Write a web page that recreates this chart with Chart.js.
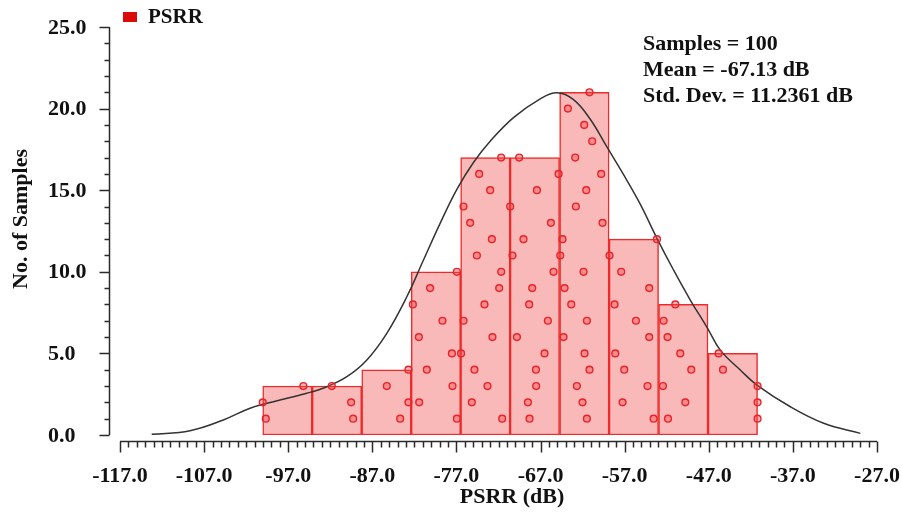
<!DOCTYPE html>
<html>
<head>
<meta charset="utf-8">
<title>PSRR histogram</title>
<script src="https://cdn.jsdelivr.net/npm/chart.js@4.4.1/dist/chart.umd.min.js"></script>
<style>
  html, body { margin: 0; padding: 0; background: #fff; }
  #wrap { width: 902px; height: 515px; position: relative; }
</style>
</head>
<body>
<div id="wrap"><canvas id="psrrChart"></canvas></div>
<script>
// histogram bins (dB) and counts
var binCenters = [-97.09, -91.21, -85.32, -79.44, -73.56, -67.68, -61.79, -55.91, -50.03, -44.14];
var binCounts = [3, 3, 4, 10, 17, 17, 21, 12, 8, 5];

// individual samples per bin, listed bottom to top
var binSamples = [
    [-99.67, -100.03, -95.20],
    [-89.28, -89.52, -91.82],
    [-83.69, -82.71, -85.28, -82.71],
    [-76.95, -81.43, -77.47, -80.52, -77.54, -81.47, -78.66, -82.18, -80.13, -76.95],
    [-71.56, -75.17, -73.31, -74.86, -76.45, -72.72, -76.16, -73.67, -71.92, -71.68, -74.57, -72.79, -75.37, -76.16, -72.99, -74.30, -71.68],
    [-68.31, -68.50, -67.52, -67.55, -66.53, -69.81, -66.13, -68.35, -67.99, -65.46, -70.34, -69.03, -65.77, -70.61, -67.43, -64.86, -69.54],
    [-61.49, -62.01, -62.68, -61.18, -61.77, -64.27, -61.49, -63.35, -64.15, -61.89, -64.66, -64.39, -59.63, -62.80, -61.57, -59.79, -62.88, -60.86, -61.81, -63.75, -61.18],
    [-53.56, -57.25, -54.28, -57.05, -58.12, -54.08, -55.66, -58.20, -54.08, -57.41, -58.80, -53.16],
    [-51.85, -49.79, -52.45, -49.08, -50.39, -51.90, -52.37, -50.98],
    [-41.20, -41.20, -41.20, -45.31, -45.83]
];

// density curve
var curveX = [-113.23, -108.67, -104.71, -101.54, -98.76, -94.79, -92.41, -90.03, -87.65, -85.28, -82.90, -80.92, -78.94, -76.95, -74.98, -72.99, -70.22, -67.04, -65.06, -63.08, -61.09, -59.11, -57.13, -55.15, -53.16, -51.19, -49.20, -47.21, -45.63, -43.25, -41.27, -37.30, -33.34, -28.98];
var curveY = [0.04, 0.26, 0.92, 1.64, 2.04, 2.56, 2.96, 3.57, 4.60, 6.23, 8.47, 10.72, 12.97, 15.05, 16.70, 18.00, 19.45, 20.60, 20.97, 20.55, 19.35, 17.65, 15.95, 14.15, 12.05, 10.11, 8.27, 6.60, 5.20, 3.98, 3.06, 1.73, 0.72, 0.10];

// axis ticks
var xTickValues = [-117, -107, -97, -87, -77, -67, -57, -47, -37, -27];
var xTickLabels = ['-117.0', '-107.0', '-97.0', '-87.0', '-77.0', '-67.0', '-57.0', '-47.0', '-37.0', '-27.0'];
var yTickValues = [0, 5, 10, 15, 20, 25];
var yTickLabels = ['0.0', '5.0', '10.0', '15.0', '20.0', '25.0'];

var statLines = ['Samples = 100', 'Mean = -67.13 dB', 'Std. Dev. = 11.2361 dB'];

var FONT = 'bold 22px "Liberation Serif", "Times New Roman", serif';

var barData = [];
for (var i = 0; i < binCenters.length; i++) {
    barData.push({x: binCenters[i], y: binCounts[i]});
}

var samplePoints = [];
for (var b = 0; b < binSamples.length; b++) {
    for (var k = 0; k < binSamples[b].length; k++) {
        samplePoints.push({x: binSamples[b][k], y: k + 1});
    }
}

var curvePoints = [];
for (var c = 0; c < curveX.length; c++) {
    curvePoints.push({x: curveX[c], y: curveY[c]});
}

// axes, labels, legend and the stats box drawn on top of the plot
var decorPlugin = {
    id: 'decor',
    afterDraw: function(chart) {
        var ctx = chart.ctx;
        var xs = chart.scales.x;
        var ys = chart.scales.y;
        var yAxisX = 109.5;
        var xAxisY = 441.5;
        var v, px, py;

        ctx.save();
        ctx.strokeStyle = '#2a2a2a';
        ctx.lineWidth = 1.5;

        // y axis with ticks on the outside
        ctx.beginPath();
        ctx.moveTo(yAxisX, ys.getPixelForValue(25));
        ctx.lineTo(yAxisX, ys.getPixelForValue(0));
        for (v = 0; v <= 25; v++) {
            py = Math.round(ys.getPixelForValue(v)) + 0.5;
            ctx.moveTo(yAxisX, py);
            ctx.lineTo(yAxisX - (v % 5 === 0 ? 10 : 5), py);
        }
        ctx.stroke();

        // x axis, drawn a little below the plot
        ctx.beginPath();
        ctx.moveTo(xs.getPixelForValue(-117), xAxisY);
        ctx.lineTo(xs.getPixelForValue(-27), xAxisY);
        for (v = -117; v <= -27; v++) {
            px = Math.round(xs.getPixelForValue(v)) + 0.5;
            ctx.moveTo(px, xAxisY);
            ctx.lineTo(px, xAxisY + ((v + 117) % 10 === 0 ? 11 : 6));
        }
        ctx.stroke();

        ctx.fillStyle = '#111';
        ctx.font = FONT;

        // y tick labels, left aligned
        ctx.textAlign = 'left';
        ctx.textBaseline = 'middle';
        for (var i = 0; i < yTickValues.length; i++) {
            ctx.fillText(yTickLabels[i], 48, ys.getPixelForValue(yTickValues[i]) + 1);
        }

        // x tick labels
        ctx.textAlign = 'center';
        ctx.textBaseline = 'alphabetic';
        for (var j = 0; j < xTickValues.length; j++) {
            ctx.fillText(xTickLabels[j], xs.getPixelForValue(xTickValues[j]), 482);
        }

        // axis titles
        ctx.fillText('PSRR (dB)', 512, 503);
        ctx.save();
        ctx.translate(27, 219);
        ctx.rotate(-Math.PI / 2);
        ctx.fillText('No. of Samples', 0, 0);
        ctx.restore();

        // legend
        ctx.fillStyle = '#dd0a0a';
        ctx.fillRect(123, 12, 14, 10);
        ctx.fillStyle = '#111';
        ctx.textAlign = 'left';
        ctx.font = 'bold 21px "Liberation Serif", "Times New Roman", serif';
        ctx.fillText('PSRR', 148, 23);

        // summary statistics
        ctx.font = FONT;
        for (var s = 0; s < statLines.length; s++) {
            ctx.fillText(statLines[s], 643, 50 + s * 26);
        }
        ctx.restore();
    }
};

var chart = new Chart(document.getElementById('psrrChart').getContext('2d'), {
    type: 'bar',
    data: {
        datasets: [
            {
                type: 'scatter',
                label: 'samples',
                data: samplePoints,
                order: 0,
                pointRadius: 3.4,
                pointBorderWidth: 1.4,
                borderColor: '#e8232a',
                backgroundColor: 'rgba(240, 70, 70, 0.4)'
            },
            {
                type: 'line',
                label: 'density',
                data: curvePoints,
                order: 1,
                borderColor: '#333333',
                borderWidth: 1.5,
                pointRadius: 0,
                fill: false,
                tension: 0.4
            },
            {
                type: 'bar',
                label: 'PSRR',
                data: barData,
                order: 2,
                barPercentage: 1.0,
                categoryPercentage: 1.0,
                backgroundColor: 'rgb(249, 185, 185)',
                borderColor: '#ee2a2a',
                borderWidth: 1.5,
                borderSkipped: false
            }
        ]
    },
    options: {
        responsive: true,
        maintainAspectRatio: false,
        animation: false,
        layout: {
            padding: {left: 120, right: 25, top: 27, bottom: 80}
        },
        scales: {
            x: {
                type: 'linear',
                min: -117,
                max: -27,
                offset: false,
                display: false,
                afterBuildTicks: function(scale) {
                    scale.ticks = xTickValues.map(function(v) { return {value: v}; });
                }
            },
            y: {
                type: 'linear',
                min: 0,
                max: 25,
                display: false
            }
        },
        plugins: {
            legend: {display: false},
            tooltip: {enabled: false}
        }
    },
    plugins: [decorPlugin]
});
</script>
</body>
</html>
